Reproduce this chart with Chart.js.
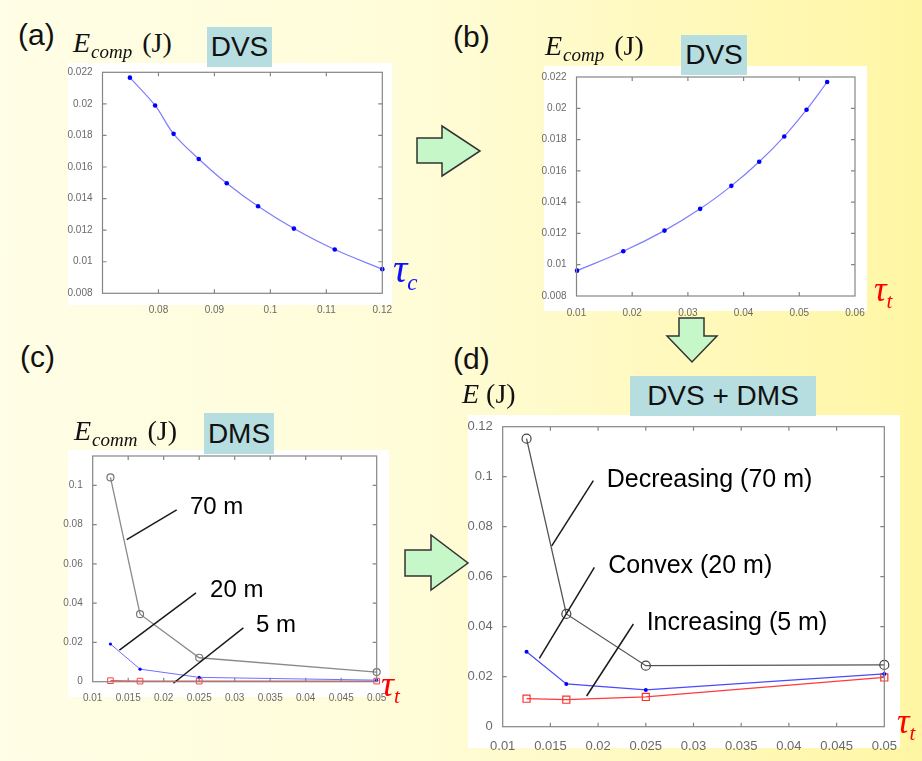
<!DOCTYPE html>
<html>
<head>
<title>DVS and DMS energy</title>
<script src="https://cdn.jsdelivr.net/npm/chart.js"></script>
<style>
  body { margin: 0; }
  #page { position: relative; width: 922px; height: 761px; overflow: hidden;
          background: linear-gradient(to right, #fffee6 0%, #fffcd8 45%, #fff6a4 100%);
          font-family: Arial, "Liberation Sans", sans-serif; }
  .white { position: absolute; background: #fff; }
  canvas { position: absolute; }
  .tag { position: absolute; font-size: 30px; line-height: 1; color: #111; }
  .box { position: absolute; background: #b6dde0; font-size: 28px; color: #111;
         display: flex; align-items: center; justify-content: center; white-space: nowrap; }
  .ylab { position: absolute; font-family: "Liberation Serif", "Times New Roman", serif;
          font-size: 28px; line-height: 1; white-space: nowrap; color: #111; }
  .ylab .s { font-style: italic; font-size: 19px; position: relative; top: 6px; margin-left: 1px; margin-right: 3px; }
  .tau { position: absolute; font-family: "Liberation Serif", serif; font-style: italic;
         line-height: 1; white-space: nowrap; }
  .tau .s { position: relative; }
  svg { position: absolute; left: 0; top: 0; }
</style>
</head>
<body>
<div id="page">
  <!-- white plot backgrounds -->
  <div class="white" style="left:68px;top:63px;width:324px;height:242px"></div>
  <div class="white" style="left:544px;top:66px;width:323px;height:245px"></div>
  <div class="white" style="left:68px;top:450px;width:321px;height:247px"></div>
  <div class="white" style="left:468px;top:415px;width:432px;height:333px"></div>

  <canvas id="chartA" width="350" height="255" style="left:60px;top:60px"></canvas>
  <canvas id="chartB" width="345" height="260" style="left:536px;top:60px"></canvas>
  <canvas id="chartC" width="345" height="270" style="left:60px;top:440px"></canvas>
  <canvas id="chartD" width="455" height="350" style="left:460px;top:405px"></canvas>

  <!-- panel letters -->
  <div class="tag" style="left:18px;top:20px">(a)</div>
  <div class="tag" style="left:453px;top:22px">(b)</div>
  <div class="tag" style="left:20px;top:342px">(c)</div>
  <div class="tag" style="left:453px;top:344px">(d)</div>

  <!-- method boxes -->
  <div class="box" style="left:207px;top:27px;width:65px;height:40px">DVS</div>
  <div class="box" style="left:681px;top:35px;width:66px;height:40px">DVS</div>
  <div class="box" style="left:204px;top:413px;width:70px;height:41px">DMS</div>
  <div class="box" style="left:630px;top:376px;width:186px;height:40px">DVS + DMS</div>

  <!-- y axis titles -->
  <div class="ylab" style="left:73px;top:29px"><i>E</i><span class="s">comp</span> (J)</div>
  <div class="ylab" style="left:545px;top:32px"><i>E</i><span class="s">comp</span> (J)</div>
  <div class="ylab" style="left:74px;top:417px"><i>E</i><span class="s">comm</span> (J)</div>
  <div class="ylab" style="left:462px;top:380px"><i>E</i>&nbsp;(J)</div>

  <!-- x axis symbols -->
  <div class="tau" style="left:393px;top:249px;font-size:40px;color:#1010ff">&tau;<span class="s" style="font-size:23px;top:8px">c</span></div>
  <div class="tau" style="left:874px;top:272px;font-size:35px;color:#ff0000">&tau;<span class="s" style="font-size:21px;top:7px">t</span></div>
  <div class="tau" style="left:381px;top:666px;font-size:36px;color:#ff0000">&tau;<span class="s" style="font-size:21px;top:7px">t</span></div>
  <div class="tau" style="left:897px;top:704px;font-size:35px;color:#ff0000">&tau;<span class="s" style="font-size:21px;top:7px">t</span></div>

  <!-- block arrows -->
  <svg width="922" height="761">
    <g fill="#c6f7c8" stroke="#333" stroke-width="1.5" stroke-linejoin="miter">
      <polygon points="417,138 442,138 442,126 480,151 442,176 442,163 417,163"/>
      <polygon points="679,318 704,318 704,336 717,336 692,362 667,336 679,336"/>
      <polygon points="405,550 431,550 431,535 468,563 431,590 431,576 405,576"/>
    </g>
  </svg>
</div>

<script>
// (a) computation energy vs computation time
const aTauC = [0.0749, 0.0794, 0.0827, 0.0872, 0.0922, 0.0978, 0.1042, 0.1115, 0.12];
const aEcomp = [0.02166, 0.0199, 0.0181, 0.01651, 0.01497, 0.01351, 0.0121, 0.01077, 0.00953];
// (b) computation energy vs transmission time
const bTauT = [0.0101, 0.0184, 0.0258, 0.0322, 0.0378, 0.0428, 0.0473, 0.0513, 0.055];
const bEcomp = [0.00962, 0.01086, 0.01218, 0.01357, 0.01504, 0.01658, 0.0182, 0.01991, 0.02168];
// (c) and (d) share the transmission times
const tauT = [0.0125, 0.01667, 0.025, 0.05];
const cEcomm70 = [0.1041, 0.0344, 0.0122, 0.0049];
const cEcomm20 = [0.0192, 0.0064, 0.0022, 0.0008];
const cEcomm5 = [0.0005, 0.0003, 0.0003, 0.0003];
const dE70 = [0.1152, 0.0451, 0.0244, 0.0247];
const dE20 = [0.03, 0.0171, 0.0147, 0.0211];
const dE5 = [0.0112, 0.0108, 0.0119, 0.0197];

// tick values
const aXTicks = [0.08, 0.09, 0.1, 0.11, 0.12];
const bXTicks = [0.01, 0.02, 0.03, 0.04, 0.05, 0.06];
const abYTicks = [0.008, 0.01, 0.012, 0.014, 0.016, 0.018, 0.02, 0.022];
const cdXTicks = [0.01, 0.015, 0.02, 0.025, 0.03, 0.035, 0.04, 0.045, 0.05];
const cYTicks = [0, 0.02, 0.04, 0.06, 0.08, 0.1];
const dYTicks = [0, 0.02, 0.04, 0.06, 0.08, 0.1, 0.12];

// callout labels: text, text anchor and leader line, in data units
const cNotes = [
  { text: '70 m', at: [0.0237, 0.089], line: [0.02183, 0.0875, 0.01479, 0.0724] },
  { text: '20 m', at: [0.02653, 0.0466], line: [0.02455, 0.04525, 0.01376, 0.0161] },
  { text: '5 m', at: [0.033, 0.0288], line: [0.03122, 0.02746, 0.02136, -0.0008] }
];
const dNotes = [
  { text: 'Decreasing (70 m)', at: [0.0209, 0.0987], line: [0.0195, 0.0984, 0.01514, 0.0723] },
  { text: 'Convex (20 m)', at: [0.02107, 0.0643], line: [0.01961, 0.0637, 0.01384, 0.02733] },
  { text: 'Increasing (5 m)', at: [0.02509, 0.0416], line: [0.0237, 0.04107, 0.0188, 0.01227] }
];

const fmt = v => String(+Number(v).toFixed(4));
const pts = (xs, ys) => xs.map((x, i) => ({ x: x, y: ys[i] }));

// matlab style frame with inward ticks
const frame = {
  id: 'frame',
  afterDraw(chart) {
    const c = chart.ctx, a = chart.chartArea;
    const xs = chart.scales.x, ys = chart.scales.y;
    c.save();
    c.strokeStyle = '#858585';
    c.lineWidth = 1.2;
    c.strokeRect(a.left, a.top, a.right - a.left, a.bottom - a.top);
    c.beginPath();
    xs.ticks.forEach(t => {
      const px = xs.getPixelForValue(t.value);
      if (px <= a.left + 1 || px >= a.right - 1) return;
      c.moveTo(px, a.bottom); c.lineTo(px, a.bottom - 4);
      c.moveTo(px, a.top); c.lineTo(px, a.top + 4);
    });
    ys.ticks.forEach(t => {
      const py = ys.getPixelForValue(t.value);
      if (py <= a.top + 1 || py >= a.bottom - 1) return;
      c.moveTo(a.left, py); c.lineTo(a.left + 4, py);
      c.moveTo(a.right, py); c.lineTo(a.right - 4, py);
    });
    c.stroke();
    c.restore();
  }
};

// leader lines and their labels
const notes = {
  id: 'notes',
  afterDatasetsDraw(chart, args, opts) {
    if (!opts.items) return;
    const c = chart.ctx, xs = chart.scales.x, ys = chart.scales.y;
    c.save();
    c.strokeStyle = '#1a1a1a';
    c.lineWidth = 1.5;
    c.fillStyle = '#000';
    c.font = opts.font;
    c.textBaseline = 'middle';
    opts.items.forEach(n => {
      c.beginPath();
      c.moveTo(xs.getPixelForValue(n.line[0]), ys.getPixelForValue(n.line[1]));
      c.lineTo(xs.getPixelForValue(n.line[2]), ys.getPixelForValue(n.line[3]));
      c.stroke();
      c.fillText(n.text, xs.getPixelForValue(n.at[0]), ys.getPixelForValue(n.at[1]));
    });
    c.restore();
  }
};

function axis(min, max, tickVals, size, pad) {
  return {
    type: 'linear', min: min, max: max,
    afterBuildTicks: s => { s.ticks = tickVals.map(v => ({ value: v })); },
    ticks: { font: { family: 'Arial', size: size }, color: '#6a6a6a', padding: pad,
             autoSkip: false, maxRotation: 0, callback: v => fmt(v) },
    grid: { display: false },
    border: { display: false }
  };
}

// canvas position + wanted plot area (page pixels) -> chart
function makeChart(id, canvasLeft, canvasTop, area, xAxis, yAxis, datasets, noteItems, noteFont) {
  const cv = document.getElementById(id);
  const yW = area.x0 - canvasLeft;
  const xH = canvasTop + cv.height - area.y1;
  xAxis.afterFit = s => { s.height = xH; };
  yAxis.afterFit = s => { s.width = yW; };
  return new Chart(cv.getContext('2d'), {
    type: 'line',
    data: { datasets: datasets },
    options: {
      responsive: false, animation: false, devicePixelRatio: 1,
      layout: { padding: { left: 0, bottom: 0, top: area.y0 - canvasTop, right: canvasLeft + cv.width - area.x1 } },
      scales: { x: xAxis, y: yAxis },
      plugins: { legend: { display: false }, tooltip: { enabled: false },
                 notes: { items: noteItems, font: noteFont } }
    },
    plugins: [frame, notes]
  });
}

function dvsSet(xs, ys) {
  return { data: pts(xs, ys), borderColor: '#7d7dff', borderWidth: 1.2, tension: 0.35,
           pointRadius: 2.3, pointBackgroundColor: '#0000ff', pointBorderColor: '#0000ff', pointBorderWidth: 0, clip: false };
}

makeChart('chartA', 60, 60, { x0: 102.5, x1: 382.3, y0: 72.3, y1: 293.3 },
  axis(0.07, 0.12, aXTicks, 10, 3), axis(0.008, 0.022, abYTicks, 10, 2),
  [dvsSet(aTauC, aEcomp)]);

makeChart('chartB', 536, 60, { x0: 576.5, x1: 855, y0: 77, y1: 296 },
  axis(0.01, 0.06, bXTicks, 10, 3), axis(0.008, 0.022, abYTicks, 10, 2),
  [dvsSet(bTauT, bEcomp)]);

makeChart('chartC', 60, 440, { x0: 92.7, x1: 376.7, y0: 456, y1: 681.7 },
  axis(0.01, 0.05, cdXTicks, 10, 3), axis(0, 0.115, cYTicks, 10, 2),
  [
    { data: pts(tauT, cEcomm70), borderColor: '#8a8a8a', borderWidth: 1.3, pointStyle: 'circle', pointRadius: 3.5,
      pointBackgroundColor: 'rgba(0,0,0,0)', pointBorderColor: '#777', pointBorderWidth: 1.2, clip: false },
    { data: pts(tauT, cEcomm20), borderColor: '#7070ff', borderWidth: 1, pointRadius: 1.6,
      pointBackgroundColor: '#0000ff', pointBorderColor: '#0000ff', pointBorderWidth: 0, clip: false },
    { data: pts(tauT, cEcomm5), borderColor: '#ff4a4a', borderWidth: 1.3, pointStyle: 'rect', pointRadius: 4,
      pointBackgroundColor: 'rgba(0,0,0,0)', pointBorderColor: '#ff4040', pointBorderWidth: 1, clip: false }
  ], cNotes, '24px Arial');

makeChart('chartD', 460, 405, { x0: 502.7, x1: 884.3, y0: 426.7, y1: 726.7 },
  axis(0.01, 0.05, cdXTicks, 13, 4), axis(0, 0.12, dYTicks, 13, 2),
  [
    { data: pts(tauT, dE70), borderColor: '#555', borderWidth: 1.3, pointStyle: 'circle', pointRadius: 4.5,
      pointBackgroundColor: 'rgba(0,0,0,0)', pointBorderColor: '#444', pointBorderWidth: 1.2, clip: false },
    { data: pts(tauT, dE20), borderColor: '#4a4aff', borderWidth: 1.2, pointRadius: 2,
      pointBackgroundColor: '#0000ff', pointBorderColor: '#0000ff', pointBorderWidth: 0, clip: false },
    { data: pts(tauT, dE5), borderColor: '#ff3a3a', borderWidth: 1.2, pointStyle: 'rect', pointRadius: 5,
      pointBackgroundColor: 'rgba(0,0,0,0)', pointBorderColor: '#ff3030', pointBorderWidth: 1.2, clip: false }
  ], dNotes, '25px Arial');
</script>
</body>
</html>
